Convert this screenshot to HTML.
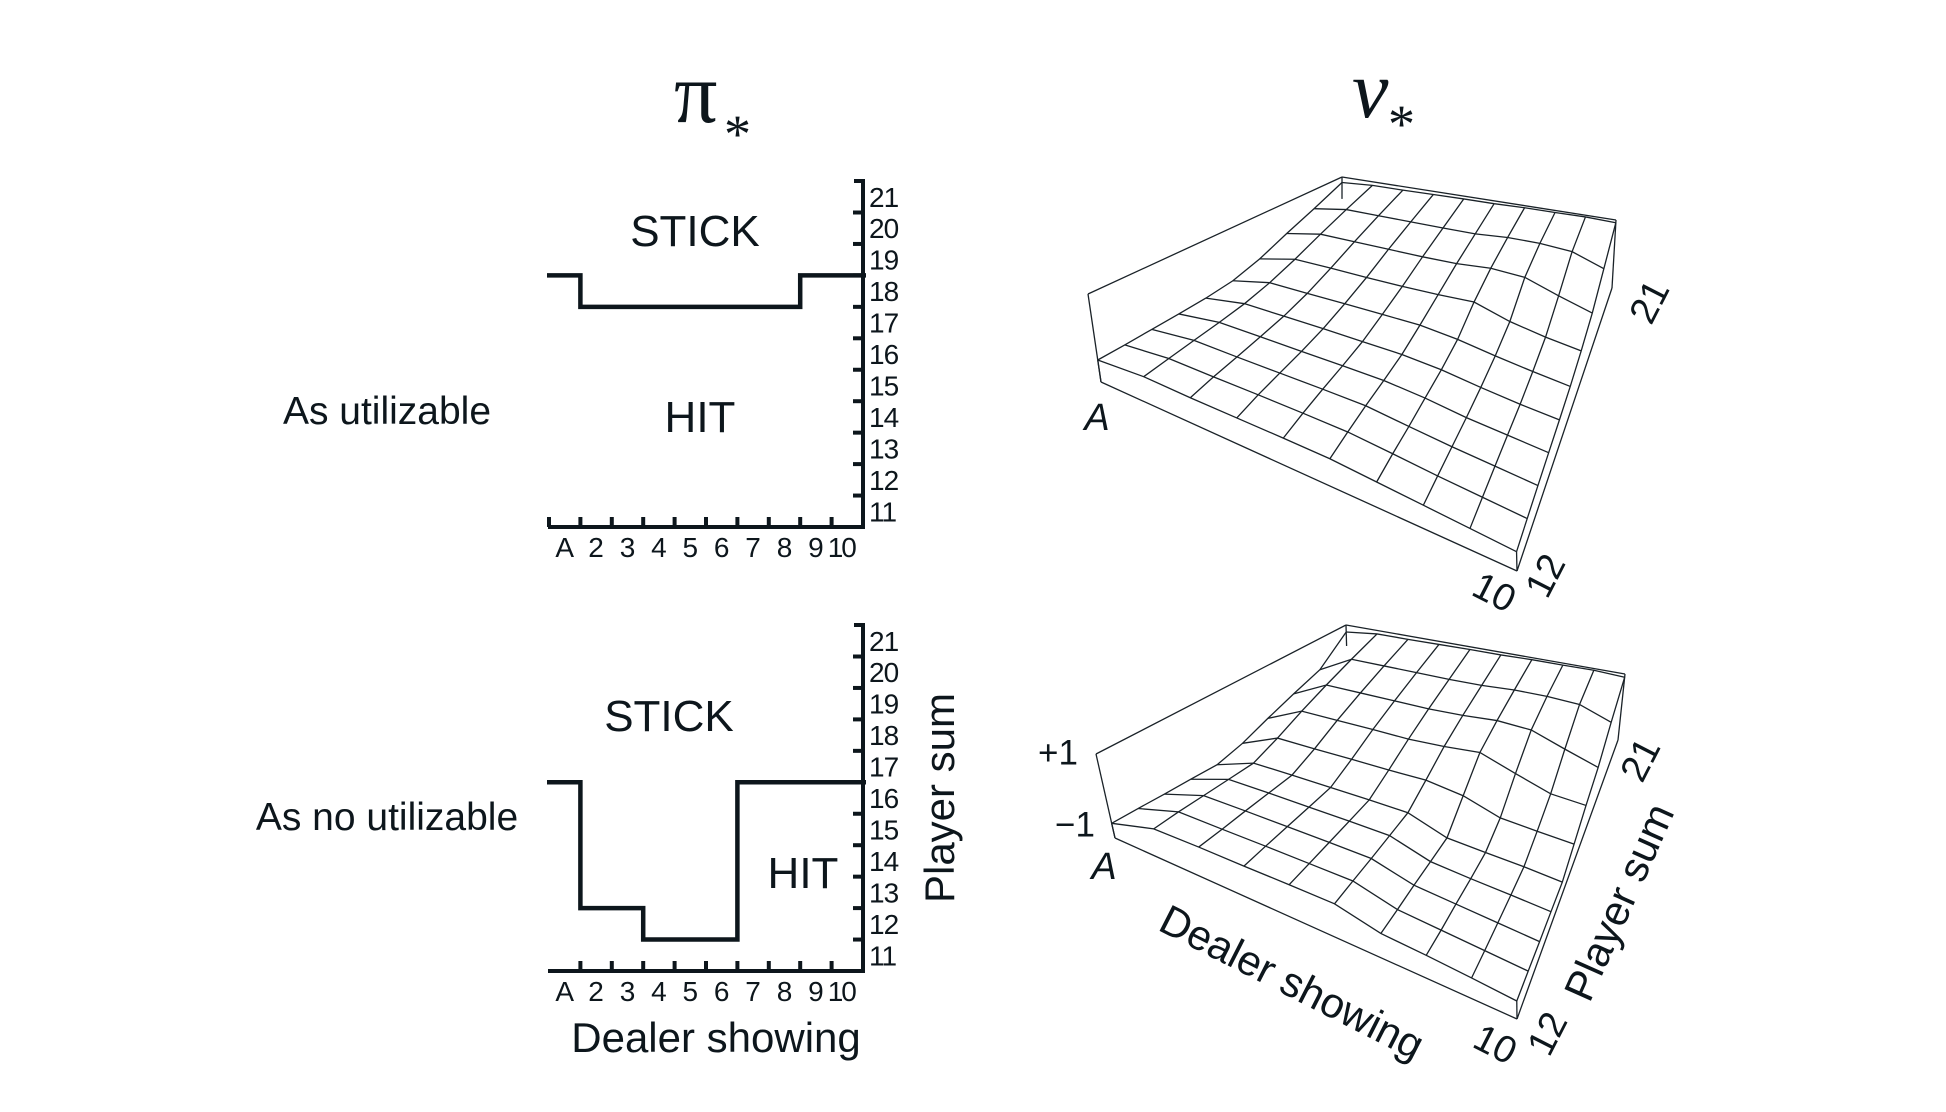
<!DOCTYPE html>
<html><head><meta charset="utf-8"><title>Blackjack optimal policy and value</title>
<style>
html,body{margin:0;padding:0;background:#fff;}
svg{display:block;}
text{font-family:"Liberation Sans",sans-serif;fill:#0d161c;}
.serif{font-family:"Liberation Serif",serif;}
</style></head>
<body>
<svg id="fig" width="1946" height="1112" viewBox="0 0 1946 1112" xmlns="http://www.w3.org/2000/svg">
  <g>
    <text class="serif" x="674" y="122" font-size="86">π</text>
    <text class="serif" x="724" y="152" font-size="54">*</text>
  </g>
  <g>
    <text class="serif" x="1352" y="117" font-size="82" font-style="italic">v</text>
    <text class="serif" x="1388" y="142" font-size="54">*</text>
  </g>
  <text x="387" y="424" font-size="39" text-anchor="middle">As utilizable</text>
  <text x="387" y="830" font-size="39" text-anchor="middle">As no utilizable</text>
  <g id="policyTop"></g>
  <g id="policyBot"></g>
  <g id="surfTop"></g>
  <g id="surfBot"></g>
</svg>
<script>
const dealerLabels = ["A","2","3","4","5","6","7","8","9","10"];
const playerTicks = [11,12,13,14,15,16,17,18,19,20,21];
// lowest player sum at which to STICK, per dealer card
const stickUsable = [19,18,18,18,18,18,18,18,19,19];
const stickNoUsable = [17,13,13,12,12,12,17,17,17,17];
// v* values, rows = player sum 12..21, cols = dealer A..10
const valueUsable = [
 [-0.5,-0.4,-0.4,-0.38,-0.36,-0.35,-0.4,-0.45,-0.5,-0.55],
 [-0.48,-0.35,-0.33,-0.3,-0.28,-0.27,-0.33,-0.4,-0.45,-0.5],
 [-0.45,-0.3,-0.28,-0.25,-0.22,-0.2,-0.28,-0.35,-0.4,-0.45],
 [-0.42,-0.25,-0.22,-0.2,-0.17,-0.15,-0.2,-0.3,-0.35,-0.4],
 [-0.38,-0.18,-0.15,-0.12,-0.1,-0.08,-0.12,-0.22,-0.3,-0.35],
 [-0.3,-0.05,-0.02,0.02,0.05,0.08,0.02,-0.1,-0.2,-0.28],
 [-0.1,0.15,0.18,0.2,0.23,0.28,0.35,0.1,-0.05,-0.15],
 [0.2,0.4,0.42,0.44,0.46,0.5,0.6,0.58,0.3,0.05],
 [0.5,0.65,0.66,0.67,0.68,0.7,0.78,0.8,0.75,0.45],
 [0.85,0.9,0.9,0.91,0.92,0.92,0.94,0.94,0.95,0.92]
];
const valueNoUsable = [
 [-0.65,-0.3,-0.25,-0.22,-0.18,-0.15,-0.38,-0.42,-0.48,-0.55],
 [-0.67,-0.3,-0.27,-0.23,-0.2,-0.17,-0.42,-0.47,-0.52,-0.57],
 [-0.7,-0.32,-0.28,-0.25,-0.22,-0.2,-0.45,-0.5,-0.55,-0.6],
 [-0.72,-0.34,-0.3,-0.27,-0.24,-0.22,-0.5,-0.55,-0.58,-0.62],
 [-0.75,-0.36,-0.32,-0.29,-0.26,-0.24,-0.55,-0.58,-0.6,-0.65],
 [-0.6,-0.15,-0.12,-0.08,-0.05,0.0,-0.1,-0.38,-0.42,-0.45],
 [-0.35,0.12,0.15,0.18,0.2,0.28,0.4,0.1,-0.18,-0.22],
 [-0.1,0.38,0.4,0.42,0.44,0.5,0.6,0.58,0.28,0.0],
 [0.15,0.64,0.65,0.66,0.67,0.7,0.77,0.79,0.76,0.44],
 [0.8,0.9,0.9,0.91,0.92,0.92,0.94,0.94,0.95,0.9]
];

const NS = "http://www.w3.org/2000/svg";
function mk(parent, tag, attrs){
  const e = document.createElementNS(NS, tag);
  for (const k in attrs) e.setAttribute(k, attrs[k]);
  parent.appendChild(e);
  return e;
}
const INK = "#0d161c";

function drawPolicy(g, stick, yAxisBottom, leftTick){
  const x0 = 549, step = 31.4, axisX = 863;
  const xB = i => x0 + i*step;
  const xC = i => x0 + (i+0.5)*step;
  const yS = v => yAxisBottom - (v-10.5)*31.45;
  const ax = mk(g,"path",{d:`M${x0-1} ${yAxisBottom} H${axisX} V${yS(21.5)} h-9`,fill:"none",stroke:INK,"stroke-width":4});
  
  
  for (let i = leftTick?0:1; i < 10; i++){
    const t = mk(g,"line",{x1:xB(i),x2:xB(i),y1:yAxisBottom,y2:yAxisBottom-10,stroke:INK,"stroke-width":4});
    
    
  }
  for (let v = 11; v <= 21; v++){
    const t = mk(g,"line",{x1:axisX,x2:axisX-10,y1:yS(v-0.5),y2:yS(v-0.5),stroke:INK,"stroke-width":4});
    
    
  }
  playerTicks.forEach(v=>{
    const t = mk(g,"text",{x:869,y:yS(v)+10,"font-size":28,"letter-spacing":"-1"});
    t.textContent = v;
    
    
  });
  dealerLabels.forEach((d,i)=>{
    const t = mk(g,"text",{x:i===9?xC(i)-6:xC(i),y:yAxisBottom+30,"font-size":28,"text-anchor":"middle"});
    if (i===9) t.setAttribute("letter-spacing","-2");
    t.textContent = d;
    
    
  });
  let d = `M547 ${yS(stick[0]-0.5)}`;
  stick.forEach((s,i)=>{
    if (i>0) d += ` V${yS(s-0.5)}`;
    d += ` H${i===9?866:xB(i+1)}`;
  });
  const line = mk(g,"path",{d:d,fill:"none",stroke:INK,"stroke-width":4.5});
  
  
  return yS;
}

drawPolicy(document.getElementById("policyTop"), stickUsable, 527, true);
drawPolicy(document.getElementById("policyBot"), stickNoUsable, 971, false);
(function(){
  const g1 = document.getElementById("policyTop");
  const g2 = document.getElementById("policyBot");
  const add=(g,x,y,fs,txt,name,extra)=>{const t=mk(g,"text",Object.assign({x:x,y:y,"font-size":fs,"text-anchor":"middle"},extra||{}));t.textContent=txt;return t;};
  add(g1,695,246,44,"STICK","stick-region-label");
  add(g1,700,432,44,"HIT","hit-region-label");
  add(g2,669,731,44,"STICK","stick-region-label");
  add(g2,803,888,44,"HIT","hit-region-label");
  add(g2,716,1052,42,"Dealer showing","x-axis-title");
  add(g2,0,0,42,"Player sum","y-axis-title",{transform:"translate(954,798) rotate(-90)"});
})();

function lerp(a,b,t){return [a[0]+(b[0]-a[0])*t, a[1]+(b[1]-a[1])*t];}
function drawSurface(g, vals, C){
  const bil = (q00,q10,q01,q11,u,w)=>lerp(lerp(q00,q10,u),lerp(q01,q11,u),w);
  const P = (di,pi,v)=>{
    const u=di/9, w=pi/9, h=(v+1)/2;
    const b=bil(C.b00,C.b10,C.b01,C.b11,u,w), t=bil(C.t00,C.t10,C.t01,C.t11,u,w);
    return lerp(b,t,h);
  };
  const L=(a,b,name)=>{const e=mk(g,"line",{x1:a[0],y1:a[1],x2:b[0],y2:b[1],stroke:"#1a2228","stroke-width":1.3});};
  L(C.t00,C.b00,"box-edge");L(C.t00,C.t01,"box-edge");L(C.t01,C.t11,"box-edge");
  L(C.t01,lerp(C.t01,C.b01,0.3),"box-edge");L(C.t11,C.b11,"box-edge");L(C.b00,C.b10,"box-edge");L(C.b10,C.b11,"box-edge");
  for (let pi=0; pi<10; pi++){
    const pts = vals[pi].map((v,di)=>P(di,pi,v).join(",")).join(" ");
    const e = mk(g,"polyline",{points:pts,fill:"none",stroke:"#1a2228","stroke-width":1.3});
    
    
  }
  for (let di=0; di<10; di++){
    const pts = vals.map((row,pi)=>P(di,pi,row[di]).join(",")).join(" ");
    const e = mk(g,"polyline",{points:pts,fill:"none",stroke:"#1a2228","stroke-width":1.3});
    
    
  }
  L(P(9,0,vals[0][9]),C.b10,"surface-skirt");
  L(P(0,0,vals[0][0]),C.b00,"surface-skirt");
}
drawSurface(document.getElementById("surfTop"), valueUsable, {
  b00:[1101,382], b10:[1517,571], b01:[1342,250], b11:[1612,288],
  t00:[1088,294], t10:[1515,485], t01:[1342,177], t11:[1616,220]
});
drawSurface(document.getElementById("surfBot"), valueNoUsable, {
  b00:[1115,838], b10:[1517,1019], b01:[1348,695], b11:[1618,740],
  t00:[1096,754], t10:[1516,939], t01:[1346,625], t11:[1625,674]
});
(function(){
  const g1=document.getElementById("surfTop"), g2=document.getElementById("surfBot");
  const add=(g,x,y,fs,txt,name,rot,italic)=>{const t=mk(g,"text",{x:0,y:0,"font-size":fs,"text-anchor":"middle","dominant-baseline":"central",transform:`translate(${x},${y}) rotate(${rot})`});if(italic)t.setAttribute("font-style","italic");t.textContent=txt;};
  add(g1,1097,418,38,"A","dealer-ace-label",0,true);
  add(g1,1494,593,38,"10","dealer-ten-label",27);
  add(g1,1546,576,38,"12","player-12-label",-63);
  add(g1,1650,302,38,"21","player-21-label",-63);
  add(g2,1104,867,38,"A","dealer-ace-label",0,true);
  add(g2,1495,1045,38,"10","dealer-ten-label",27);
  add(g2,1548,1034,38,"12","player-12-label",-63);
  add(g2,1641,760,38,"21","player-21-label",-63);
  add(g2,1058,753,35,"+1","z-max-label",0);
  add(g2,1075,825,35,"−1","z-min-label",0);
  add(g2,1292,982,42,"Dealer showing","dealer-axis-title",27);
  add(g2,1619,902,42,"Player sum","player-axis-title",-66);
})();
</script>
</body></html>
